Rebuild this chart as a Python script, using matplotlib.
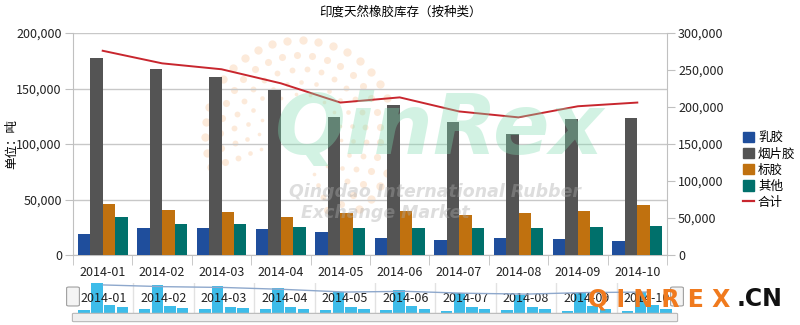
import numpy as np
import matplotlib
matplotlib.use("Agg")
import matplotlib.pyplot as plt
from matplotlib.patches import Patch, FancyBboxPatch
from matplotlib.lines import Line2D

plt.rcParams['font.family'] = ['Noto Sans CJK SC', 'DejaVu Sans']

months = ['2014-01', '2014-02', '2014-03', '2014-04', '2014-05',
          '2014-06', '2014-07', '2014-08', '2014-09', '2014-10']
latex = [19200, 24400, 24400, 23500, 20800, 15300, 13500, 15300, 14400, 12600]
sheet = [177500, 167600, 160400, 148900, 124500, 135400, 120000, 109200, 122700, 123600]
tsr = [46000, 40600, 38800, 34300, 37900, 39700, 36100, 37900, 39700, 45100]
other = [34300, 28000, 28000, 25300, 24400, 24400, 24400, 24400, 25300, 26200]
total = [276000, 259000, 251000, 232000, 206000, 213000, 194000, 186000, 201000, 206000]

series = [latex, sheet, tsr, other]
names = ['乳胶', '烟片胶', '标胶', '其他']
colors = ['#1f4e9c', '#545454', '#c0710f', '#00706b']
line_color = '#c8262e'

W, H = 800, 325
fig = plt.figure(figsize=(8, 3.25), dpi=100)

def fr(x0, y0, x1, y1):
    return [x0 / W, 1 - y1 / H, (x1 - x0) / W, (y1 - y0) / H]

# watermark dots (background)
bg = fig.add_axes([0, 0, 1, 1], zorder=0)
bg.set_xlim(0, W)
bg.set_ylim(H, 0)
bg.axis('off')
cx, cy = 300, 135
for r, n, s in [(95, 30, 36), (80, 26, 26), (66, 22, 18), (53, 18, 11), (41, 14, 7)]:
    ang = np.linspace(np.radians(-70), np.radians(200), n)
    bg.scatter(cx + r * np.cos(ang), cy - r * np.sin(ang), s=s,
               color='#f5a05a', alpha=0.22, lw=0)

x = np.arange(len(months))
ax = fig.add_axes(fr(73, 33, 667, 255), zorder=1)
ax.patch.set_alpha(0)
bw = 0.21
for i, (vals, c) in enumerate(zip(series, colors)):
    ax.bar(x + (i - 1.5) * bw, vals, width=bw, color=c, zorder=3)
ax.set_xlim(-0.5, len(months) - 0.5)
ax.set_ylim(0, 200000)
ax.set_yticks(range(0, 200001, 50000))
ax.set_yticklabels([f'{v:,}' for v in range(0, 200001, 50000)], fontsize=9, color='#222222')
ax.yaxis.grid(True, color='#c8c8c8', lw=1, zorder=0)
ax.set_xticks(x)
ax.set_xticklabels(months, fontsize=9, color='#222222')
ax.tick_params(axis='x', length=0, pad=8)
ax.set_xticks(np.arange(-0.5, len(months), 1), minor=True)
ax.tick_params(axis='x', which='minor', length=7, color='#c0c0c0')
ax.tick_params(axis='y', length=6, color='#c0c0c0', pad=2)
for s in ['top', 'right']:
    ax.spines[s].set_visible(False)
ax.spines['left'].set_color('#c0c0c0')
ax.spines['bottom'].set_color('#c0c0c0')
ax.set_ylabel('单位：吨', fontsize=9)
ax.yaxis.set_label_coords(-55 / 594, 0.5)

ax2 = ax.twinx()
ax2.plot(x, total, color=line_color, lw=1.4, zorder=4)
ax2.set_ylim(0, 300000)
ax2.set_yticks(range(0, 300001, 50000))
ax2.set_yticklabels([f'{v:,}' for v in range(0, 300001, 50000)], fontsize=9, color='#222222')
ax2.tick_params(axis='y', length=6, color='#c0c0c0', pad=2)
for s in ['top', 'left', 'bottom']:
    ax2.spines[s].set_visible(False)
ax2.spines['right'].set_color('#c0c0c0')

fig.text(0.5, 1 - 12 / H, '印度天然橡胶库存（按种类）', ha='center', va='center', fontsize=9)

# watermark text
fig.text(440 / W, 1 - 130 / H, 'QinRex', ha='center', va='center', fontsize=60,
         fontweight='bold', style='italic', color='#7fdcb0', alpha=0.35,
         family='DejaVu Sans', zorder=2)
fig.text(435 / W, 1 - 192 / H, 'Qingdao International Rubber', ha='center', va='center',
         fontsize=12.5, fontweight='bold', style='italic', color='#aaaaaa', alpha=0.4,
         family='DejaVu Sans', zorder=2)
fig.text(385 / W, 1 - 213 / H, 'Exchange Market', ha='center', va='center',
         fontsize=12.5, fontweight='bold', style='italic', color='#aaaaaa', alpha=0.4,
         family='DejaVu Sans', zorder=2)

handles = [Patch(color=c, label=n) for c, n in zip(colors, names)]
handles.append(Line2D([], [], color=line_color, lw=1.6, label='合计'))
fig.legend(handles=handles, loc='center left', bbox_to_anchor=(743 / W, 1 - 170 / H),
           frameon=False, fontsize=9, handlelength=0.9, handleheight=0.9,
           handletextpad=0.3, labelspacing=0.25, borderaxespad=0, borderpad=0)

# navigator
nav = fig.add_axes(fr(73, 283, 677, 313), zorder=1)
nav.patch.set_alpha(0)
for i, vals in enumerate(series):
    nav.bar(x + (i - 1.5) * bw, vals, width=bw * 0.9, color='#3dbce9', zorder=3)
nav.set_xlim(-0.5, len(months) - 0.5)
nav.set_ylim(0, 180000)
for b in np.arange(0.5, len(months) - 1, 1):
    nav.axvline(b, color='#e2e2e2', lw=1, zorder=0)
for xi, m in zip(x, months):
    nav.text(xi, 0.5, m, transform=nav.get_xaxis_transform(), ha='center', va='center',
             fontsize=9, color='#222222', zorder=4)
nav.axis('off')
nav2 = nav.twinx()
nav2.plot(x, total, color='#8ea8cc', lw=1, zorder=2)
nav2.set_ylim(0, 295000)
nav2.axis('off')

fig.patches.append(FancyBboxPatch((74 / W, 1 - 321 / H), 602 / W, 7 / H,
                                  boxstyle='round,pad=0.002', transform=fig.transFigure,
                                  facecolor='#eeeeee', edgecolor='#b8b8b8', lw=0.8))
for hx in [73, 677]:
    fig.patches.append(FancyBboxPatch(((hx - 4) / W, 1 - 305 / H), 8 / W, 17 / H,
                                      boxstyle='round,pad=0.003',
                                      transform=fig.transFigure, facecolor='#f4f4f4',
                                      edgecolor='#a0a0a0', lw=0.8))

fig.text(588 / W, 1 - 299 / H, 'Q I N R E X', ha='left', va='center', fontsize=17,
         fontweight='bold', color='#f07a1e', family='DejaVu Sans', zorder=5)
fig.text(737 / W, 1 - 299 / H, '.CN', ha='left', va='center', fontsize=17,
         fontweight='bold', color='#111111', family='DejaVu Sans', zorder=5)

fig.savefig('out.png', dpi=100)
